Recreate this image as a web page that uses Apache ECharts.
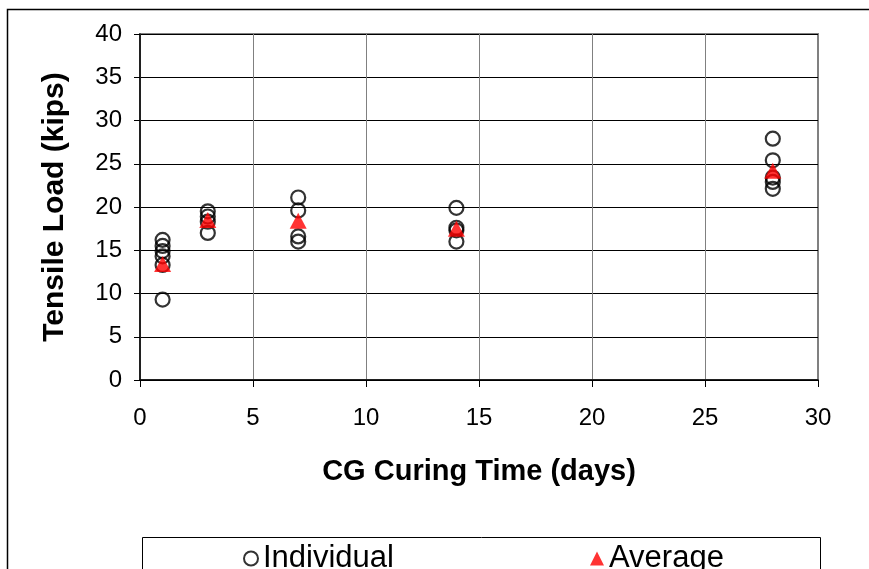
<!DOCTYPE html>
<html>
<head>
<meta charset="utf-8">
<script src="https://cdn.jsdelivr.net/npm/echarts@6/dist/echarts.min.js"></script>
<style>html,body{margin:0;padding:0;background:#fff}#c{width:869px;height:569px}</style>
</head>
<body>
<div id="c"></div>
<script>
// Data
const curingDays = [1, 3, 7, 14, 28];
const individualDay1 = [16.2, 15.5, 14.9, 14.3, 13.3, 9.3];
const individualDay3 = [19.5, 18.9, 18.3, 17.0];
const individualDay7 = [21.1, 19.6, 16.6, 16.0];
const individualDay14 = [19.9, 17.6, 17.3, 16.0];
const individualDay28 = [27.9, 25.4, 23.4, 22.9, 22.1];
const averageLoad = [13.4, 18.5, 18.4, 17.5, 24.2];
const xTicks = [0, 5, 10, 15, 20, 25, 30];
const yTicks = [0, 5, 10, 15, 20, 25, 30, 35, 40];

const groups = [individualDay1, individualDay3, individualDay7, individualDay14, individualDay28];
const individualPts = [];
groups.forEach((g, i) => g.forEach(v => individualPts.push([curingDays[i], v])));
const averagePts = curingDays.map((d, i) => [d, averageLoad[i]]);

const FONT = '"Liberation Sans", Arial, sans-serif';
const chart = echarts.init(document.getElementById('c'), null, {renderer: 'canvas'});
chart.setOption({
  animation: false,
  backgroundColor: '#fff',
  grid: {left: 140, right: 51, top: 34, bottom: 189, show: true, borderColor: '#808080', borderWidth: 2, containLabel: false},
  xAxis: {
    type: 'value', min: xTicks[0], max: xTicks[xTicks.length - 1], interval: 5,
    name: 'CG Curing Time (days)', nameLocation: 'middle', nameGap: 77,
    nameTextStyle: {fontFamily: FONT, fontSize: 29, fontWeight: 'bold', color: '#000'},
    axisLine: {show: true, onZero: false, lineStyle: {color: '#000', width: 1.5}},
    axisTick: {show: true, length: 7, lineStyle: {color: '#000'}},
    axisLabel: {fontFamily: FONT, fontSize: 24, color: '#000', margin: 26},
    splitLine: {show: true, lineStyle: {color: '#808080', width: 1}}
  },
  yAxis: {
    type: 'value', min: yTicks[0], max: yTicks[yTicks.length - 1], interval: 5,
    name: 'Tensile Load (kips)', nameLocation: 'middle', nameGap: 70,
    nameTextStyle: {fontFamily: FONT, fontSize: 30, fontWeight: 'bold', color: '#000'},
    axisLine: {show: true, onZero: false, lineStyle: {color: '#000', width: 1.5}},
    axisTick: {show: true, length: 6, lineStyle: {color: '#000'}},
    axisLabel: {fontFamily: FONT, fontSize: 24, color: '#000', margin: 18},
    splitLine: {show: true, lineStyle: {color: '#000', width: 1}}
  },
  legend: {
    left: 238, top: 538, itemWidth: 14, itemHeight: 14, itemGap: 196,
    textStyle: {fontFamily: FONT, fontSize: 31, color: '#000'},
    data: [
      {name: 'Individual', icon: 'circle', itemStyle: {color: 'transparent', borderColor: '#000', borderWidth: 2}},
      {name: 'Average', icon: 'triangle', itemStyle: {color: '#ff0000'}}
    ]
  },
  graphic: [
    {type: 'rect', left: 5, top: 7, shape: {width: 900, height: 600}, style: {fill: 'none', stroke: '#000', lineWidth: 1.5}, silent: true, z: -10},
    {type: 'rect', left: 140, top: 535, shape: {width: 678, height: 60}, style: {fill: 'none', stroke: '#000', lineWidth: 1}, silent: true, z: -10}
  ],
  series: [
    {
      name: 'Individual', type: 'scatter', data: individualPts,
      symbol: 'circle', symbolSize: 14,
      itemStyle: {color: 'transparent', borderColor: '#000', borderWidth: 2.2}, z: 3
    },
    {
      name: 'Average', type: 'scatter', data: averagePts,
      symbol: 'triangle', symbolSize: [17, 16],
      itemStyle: {color: '#ff0000'}, z: 4
    }
  ]
});
</script>
</body>
</html>
